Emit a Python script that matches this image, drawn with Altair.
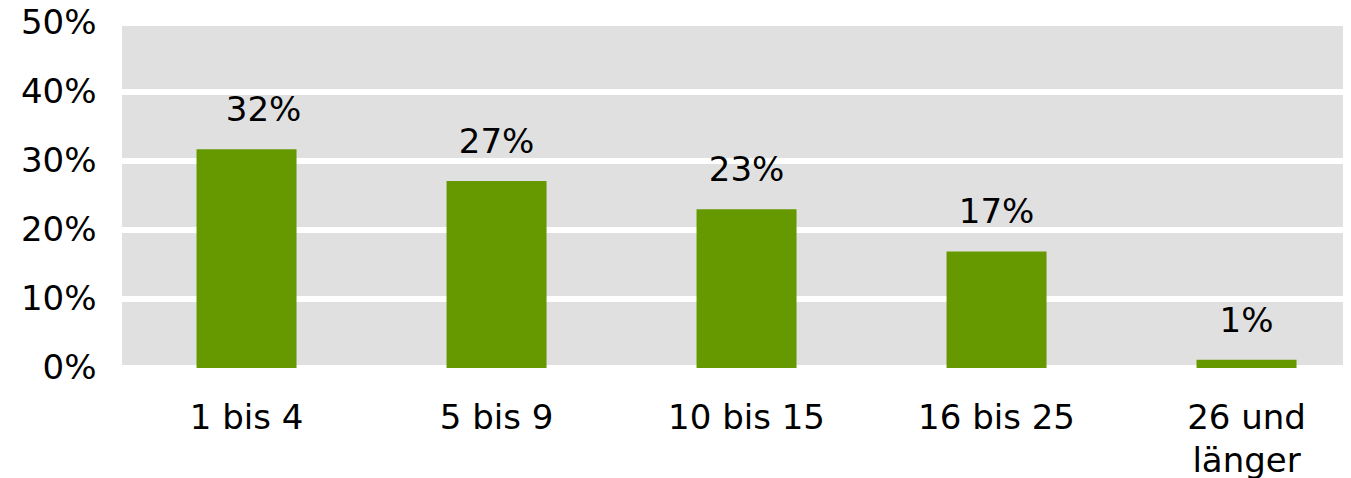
import altair as alt
import pandas as pd

categories = ["1 bis 4", "5 bis 9", "10 bis 15", "16 bis 25", "26 und\nlänger"]
values = [31.7, 27.1, 23.0, 16.9, 1.2]
labels = ["32%", "27%", "23%", "17%", "1%"]
grid_values = [0, 10, 20, 30, 40, 50]

df = pd.DataFrame({"cat": categories, "value": values, "label": labels})
grid_df = pd.DataFrame({"v": grid_values})

FONT = "DejaVu Sans"
GREEN = "#669900"

yscale = alt.Scale(domain=[0, 50], nice=False)
xscale = alt.Scale(paddingInner=0.6, paddingOuter=0.242, align=0.616)

yaxis = alt.Axis(
    title=None,
    values=grid_values,
    labelExpr="datum.value + '%'",
    labelFontSize=34,
    labelPadding=26,
    labelColor="black",
    labelFont=FONT,
    ticks=False,
    domain=False,
    grid=False,
)

grid = alt.Chart(grid_df).mark_rule(color="white", strokeWidth=6, clip=True).encode(
    y=alt.Y("v:Q", scale=yscale, axis=yaxis)
)

bars = alt.Chart(df).mark_bar(color=GREEN).encode(
    x=alt.X(
        "cat:N",
        sort=categories,
        scale=xscale,
        axis=alt.Axis(
            title=None,
            labelAngle=0,
            labelFontSize=34,
            labelPadding=33,
            labelLineHeight=43,
            ticks=False,
            domain=False,
            labelColor="black",
            labelFont=FONT,
            labelExpr="split(datum.label, '\\n')",
        ),
    ),
    y=alt.Y("value:Q", scale=yscale, axis=yaxis),
)

text_main = alt.Chart(df).transform_filter(
    alt.datum.cat != categories[0]
).mark_text(fontSize=34, font=FONT, color="black", baseline="alphabetic", dy=-28).encode(
    x=alt.X("cat:N", sort=categories),
    y=alt.Y("value:Q"),
    text="label:N",
)

text_first = alt.Chart(df).transform_filter(
    alt.datum.cat == categories[0]
).mark_text(fontSize=34, font=FONT, color="black", baseline="alphabetic", dy=-28, dx=17).encode(
    x=alt.X("cat:N", sort=categories),
    y=alt.Y("value:Q"),
    text="label:N",
)

chart = (
    alt.layer(grid, bars, text_main, text_first)
    .properties(
        width=1221,
        height=345,
        padding={"left": 114, "top": 15, "right": 0, "bottom": 110},
        autosize=alt.AutoSizeParams(type="none"),
    )
    .configure(font=FONT)
    .configure_view(fill="#e0e0e0", stroke=None)
)

chart.save("out.html", embed_options={"renderer": "svg", "actions": False})
